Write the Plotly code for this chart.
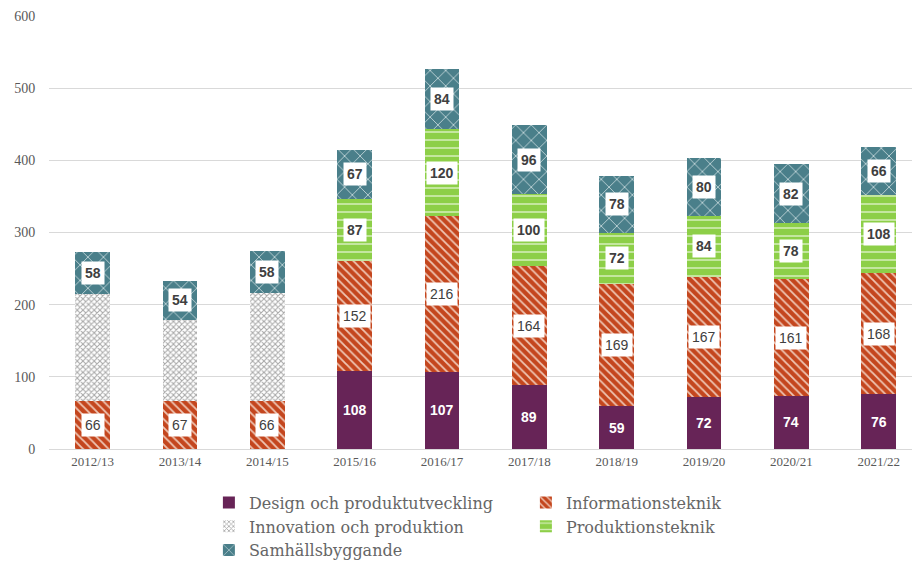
import plotly.graph_objects as go

years = ["2012/13", "2013/14", "2014/15", "2015/16", "2016/17",
         "2017/18", "2018/19", "2019/20", "2020/21", "2021/22"]
design = [None, None, None, 108, 107, 89, 59, 72, 74, 76]
info = [66, 67, 66, 152, 216, 164, 169, 167, 161, 168]
innov = [149, 112, 150, None, None, None, None, None, None, None]
prod = [None, None, None, 87, 120, 100, 72, 84, 78, 108]
samh = [58, 54, 58, 67, 84, 96, 78, 80, 82, 66]

series = [
    ("Design och produktutveckling", design,
     dict(color="#672457"), "design"),
    ("Informationsteknik", info,
     dict(color="#C4461E", pattern=dict(shape="\\", fgcolor="#EFC6B4", bgcolor="#C4461E",
                                        size=6, solidity=0.3, fillmode="replace")), "info"),
    ("Innovation och produktion", innov,
     dict(color="#FFFFFF", pattern=dict(shape="x", fgcolor="#A8A8A8", bgcolor="#FFFFFF",
                                        size=4, solidity=0.45, fillmode="replace")), "innov"),
    ("Produktionsteknik", prod,
     dict(color="#8DCF48", pattern=dict(shape="-", fgcolor="#D2EDB5", bgcolor="#8DCF48",
                                        size=8, solidity=0.2, fillmode="replace")), "prod"),
    ("Samhällsbyggande", samh,
     dict(color="#4A7F8A", pattern=dict(shape="x", fgcolor="#C5D8DC", bgcolor="#4A7F8A",
                                        size=11, solidity=0.15, fillmode="replace")), "samh"),
]

fig = go.Figure()
for name, vals, marker, key in series:
    fig.add_trace(go.Bar(name=name, x=years, y=vals,
                         marker=dict(line=dict(width=0), **marker)))

# data labels at the centre of each segment
annotations = []
base = [0] * len(years)
for name, vals, marker, key in series:
    for i, v in enumerate(vals):
        if v is None:
            continue
        centre = base[i] + v / 2
        base[i] += v
        if key == "innov":
            continue
        if key == "design":
            annotations.append(dict(x=years[i], y=centre, text=f"<b>{v}</b>", showarrow=False,
                                    font=dict(family="Liberation Sans", size=14, color="#FFFFFF")))
        elif key == "info":
            annotations.append(dict(x=years[i], y=centre, text=str(v), showarrow=False,
                                    bgcolor="#FFFFFF", borderpad=3,
                                    font=dict(family="Liberation Sans", size=14, color="#404040")))
        else:
            annotations.append(dict(x=years[i], y=centre, text=f"<b>{v}</b>", showarrow=False,
                                    bgcolor="#FFFFFF", borderpad=3,
                                    font=dict(family="Liberation Sans", size=14, color="#404040")))

fig.update_layout(
    barmode="stack",
    bargap=0.6,
    width=912, height=555,
    margin=dict(l=41, r=2, t=8, b=114, autoexpand=False),
    plot_bgcolor="#FFFFFF",
    paper_bgcolor="#FFFFFF",
    annotations=annotations,
    showlegend=True,
    legend=dict(orientation="h", x=0.184, xanchor="left", y=-0.0845, yanchor="top",
                entrywidth=272, entrywidthmode="pixels", traceorder="normal",
                font=dict(family="DejaVu Serif", size=16, color="#666666"),
                itemwidth=30, tracegroupgap=0),
    xaxis=dict(range=[-0.5, 9.45], showgrid=False, showline=True, linecolor="#D9D9D9",
               linewidth=1, ticks="",
               tickfont=dict(family="Liberation Serif", size=13, color="#595959")),
    yaxis=dict(range=[0, 600], dtick=100, showgrid=True, gridcolor="#D9D9D9", gridwidth=1,
               zeroline=False, showline=False, ticks="outside", ticklen=10, tickcolor="#FFFFFF",
               ticklabeloverflow="allow",
               tickfont=dict(family="Liberation Serif", size=14, color="#595959")),
)

fig.write_html("out.html")
